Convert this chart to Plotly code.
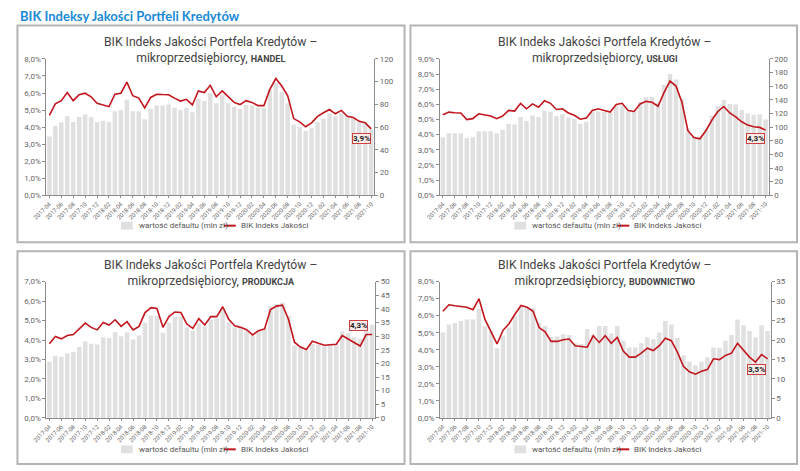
import plotly.graph_objects as go

W, H = 800, 471

# ---------------- data ----------------
months = []
for yr in range(2017, 2022):
    for mo in range(1, 13):
        if (yr == 2017 and mo < 4) or (yr == 2021 and mo > 10):
            continue
        months.append(f"{yr}-{mo:02d}")

handel_pct = [4.69, 5.36, 5.55, 6.03, 5.55, 5.90, 5.99, 5.78, 5.40,
              5.32, 5.20, 5.93, 5.99, 6.64, 5.84, 5.70, 5.13, 5.74, 5.93, 5.91, 5.90,
              5.70, 5.53, 5.63, 5.30, 6.12, 6.03, 6.45, 5.78, 6.12, 5.78, 5.45, 5.32,
              5.55, 5.45, 5.26, 5.26, 6.22, 6.85, 6.41, 5.84, 4.50, 4.31, 4.02, 4.25,
              4.63, 4.84, 5.03, 4.78, 4.98, 4.63, 4.56, 4.34, 4.25, 3.90]
handel_val = [51.7, 61, 64, 69.5, 64.6, 69, 71, 69, 64.6,
              65.5, 64.6, 74, 75, 84, 74, 74, 67, 76, 79, 79, 80,
              77, 75, 77, 73, 85, 83, 90, 81, 88, 81, 78, 76,
              79.5, 79, 77, 77, 93, 99, 91, 81, 62, 60, 56.5, 59,
              64.6, 67.5, 72, 69.5, 72, 69.5, 68, 64.6, 63, 58]

uslugi_pct = [5.32, 5.49, 5.45, 5.43, 5.00, 5.06, 5.38, 5.32, 5.23,
              5.06, 5.23, 5.60, 5.56, 6.07, 5.71, 6.03, 5.81, 6.24, 6.07, 5.66, 5.71,
              5.43, 5.28, 5.02, 5.10, 5.60, 5.71, 5.60, 5.49, 5.99, 6.07, 5.60, 5.53,
              6.03, 6.20, 6.14, 5.88, 6.78, 7.54, 7.21, 6.14, 4.26, 3.81, 3.73, 4.26,
              4.95, 5.53, 5.86, 5.43, 5.17, 4.85, 4.63, 4.52, 4.48, 4.30]
uslugi_val = [85, 91, 91, 91, 84, 85, 94, 94, 94,
              91, 96, 105, 104, 115, 109, 117, 115, 124, 123, 116, 119,
              114, 112, 105, 108, 122, 123, 122, 121, 132, 132, 123, 122,
              137, 144, 144, 136, 162, 178, 170, 142, 98, 86, 85, 97,
              117, 131, 140, 134, 133, 125, 120, 118, 119, 111]

produkcja_pct = [3.81, 4.18, 4.06, 4.23, 4.28, 4.57, 4.87, 4.65, 4.52,
                 4.90, 4.77, 5.04, 4.70, 4.94, 4.52, 4.70, 5.41, 5.66, 5.62, 4.65, 5.20,
                 5.44, 5.41, 4.82, 4.60, 5.10, 4.77, 5.20, 5.20, 5.71, 5.07, 4.73, 4.65,
                 4.53, 4.26, 4.48, 4.57, 5.57, 5.74, 5.79, 5.07, 3.89, 3.64, 3.51, 3.94,
                 3.84, 3.73, 3.76, 3.78, 4.23, 4.06, 3.86, 3.69, 4.28, 4.28]
produkcja_val = [20.6, 22.7, 22.4, 23.6, 24.2, 26, 28, 27.2, 26.9,
                 29.6, 29.3, 31.4, 30, 31.4, 28.8, 30.2, 35, 37.6, 37.4, 31.2, 35,
                 37, 37, 33.2, 32, 34.7, 33.5, 35.9, 36.5, 39.8, 35, 33.2, 32.9,
                 32, 30.2, 32.3, 32.9, 41, 41.8, 42.2, 37.4, 26.6, 25.8, 24.8, 27.2,
                 26.9, 26.3, 26.9, 27, 31.7, 31.1, 29.6, 29, 33.6, 34.2]

budownictwo_pct = [6.26, 6.64, 6.58, 6.55, 6.49, 6.35, 6.99, 5.78, 5.10,
                   4.34, 5.14, 5.53, 6.10, 6.60, 6.49, 6.26, 5.30, 5.05, 4.49, 4.49, 4.59,
                   4.63, 4.24, 4.18, 4.15, 4.82, 4.43, 4.82, 4.38, 4.72, 3.92, 3.57, 3.57,
                   3.80, 4.09, 3.95, 4.24, 4.68, 4.53, 3.86, 3.03, 2.71, 2.57, 2.74, 2.84,
                   3.47, 3.42, 3.67, 3.80, 4.38, 3.99, 3.57, 3.28, 3.72, 3.47]
budownictwo_val = [21.9, 24.0, 24.4, 24.9, 25.3, 25.3, 28.0, 23.6, 22.3,
                   17.9, 21.1, 23.2, 26.1, 28.6, 28.2, 28.2, 24.4, 23.6, 20.8, 20.9, 21.5,
                   21.3, 19.2, 19.0, 22.8, 21.5, 23.6, 23.6, 21.7, 23.6, 19.8, 18.1, 18.1,
                   19.2, 20.7, 20.2, 21.9, 24.9, 24.0, 20.5, 16.0, 14.4, 13.5, 14.4, 15.6,
                   18.1, 18.0, 19.8, 21.3, 25.3, 23.8, 22.3, 20.7, 23.8, 22.3]

sectors = ["HANDEL", "USŁUGI", "PRODUKCJA", "BUDOWNICTWO"]
pct_series = [handel_pct, uslugi_pct, produkcja_pct, budownictwo_pct]
val_series = [handel_val, uslugi_val, produkcja_val, budownictwo_val]
left_max = [8, 9, 7, 8]
right_max = [120, 200, 50, 35]
right_step = [20, 20, 5, 5]

main_title = "BIK Indeksy Jakości Portfeli Kredytów"
sub_title = "BIK Indeks Jakości Portfela Kredytów –"
sub_line2 = "mikroprzedsiębiorcy, "
legend_bar = "wartość defaultu (mln zł)"
legend_line = "BIK Indeks Jakości"

# ---------------- layout geometry (pixels) ----------------
plot_rects = [(32, 56, 366, 195), (433, 56, 768, 195),
              (32, 283, 367, 422), (433, 283, 770, 422)]
panel_boxes = [(2.5, 22, 397, 243), (403, 22, 797, 243),
               (2.5, 252, 397, 469), (403, 252, 797, 469)]
title_pos = [(200, 47), (601, 47), (200, 274), (601, 274)]
legend_pos = [(108, 226), (509, 226), (108, 454), (509, 454)]
label_shift = [(-10, -10), (-10, -8), (-14, 9), (-11, -11)]

RED = "#c2151d"
BARC = "#e0e0e0"
AX = "#8c8c8c"
TXT = "#666666"
FONT = "Roboto"
NARROW = "Liberation Sans Narrow, Roboto, sans-serif"

def px(x):
    return x / W

def py(y):
    return 1 - y / H

idx = list(range(len(months)))
fig = go.Figure()
layout = dict(width=W, height=H, margin=dict(l=0, r=0, t=0, b=0),
              paper_bgcolor="white", plot_bgcolor="white", showlegend=False,
              bargap=0.25)
shapes = []
annotations = []

for k in range(4):
    n = k + 1
    xname = "x" if n == 1 else f"x{n}"
    ybar = "y" if n == 1 else f"y{2 * n - 1}"
    yline = f"y{2 * n}"
    x0, y0, x1, y1 = plot_rects[k]
    xd = [px(x0), px(x1)]
    yd = [py(y1), py(y0)]

    fig.add_trace(go.Bar(x=idx, y=val_series[k], marker_color=BARC,
                         marker_line_width=0, xaxis=xname, yaxis=ybar,
                         name=legend_bar))
    fig.add_trace(go.Scatter(x=idx, y=pct_series[k], mode="lines",
                             line=dict(color=RED, width=1.6),
                             xaxis=xname, yaxis=yline, name=legend_line))

    xkey = "xaxis" if n == 1 else f"xaxis{n}"
    ybkey = "yaxis" if n == 1 else f"yaxis{2 * n - 1}"
    ylkey = f"yaxis{2 * n}"

    layout[xkey] = dict(domain=xd, anchor=ybar, range=[-0.5, len(idx) - 0.5],
                        tickmode="array", tickvals=idx[::2], ticktext=months[::2],
                        tickangle=-45, tickfont=dict(size=6, color=TXT, family=NARROW),
                        showline=True, linecolor=AX, linewidth=1, ticks="outside",
                        ticklen=2, tickcolor=AX, showgrid=False, zeroline=False,
                        fixedrange=True)
    rt = list(range(0, right_max[k] + 1, right_step[k]))
    layout[ybkey] = dict(domain=yd, anchor=xname, side="right",
                         range=[0, right_max[k]], tickmode="array", tickvals=rt,
                         ticktext=[str(v) for v in rt],
                         tickfont=dict(size=8, color=TXT, family=FONT),
                         showline=True, linecolor=AX, linewidth=1, ticks="outside",
                         ticklen=3, tickcolor=AX, showgrid=False, zeroline=False)
    lt = list(range(0, left_max[k] + 1))
    layout[ylkey] = dict(overlaying=ybar, anchor=xname, side="left",
                         range=[0, left_max[k]], tickmode="array", tickvals=lt,
                         ticktext=[f"{v:.1f}%".replace(".", ",") for v in lt],
                         tickfont=dict(size=8, color=TXT, family=FONT),
                         showline=True, linecolor=AX, linewidth=1, ticks="outside",
                         ticklen=3, tickcolor=AX, showgrid=False, zeroline=False)

    # panel frame
    bx0, by0, bx1, by1 = panel_boxes[k]
    shapes.append(dict(type="rect", xref="paper", yref="paper",
                       x0=px(bx0), x1=px(bx1), y0=py(by1), y1=py(by0),
                       line=dict(color="#b4b4b4", width=2), layer="below"))

    # title
    tx, ty = title_pos[k]
    annotations.append(dict(
        xref="paper", yref="paper", x=px(tx), y=py(ty), xanchor="center",
        yanchor="middle", showarrow=False, align="center",
        text=(f"{sub_title}<br>{sub_line2}"
              f"<b><span style='font-size:9px'>{sectors[k]}</span></b>"),
        font=dict(size=12.2, color="#444444", family=FONT)))

    # legend (manual)
    lx, ly = legend_pos[k]
    shapes.append(dict(type="rect", xref="paper", yref="paper",
                       x0=px(lx), x1=px(lx + 12), y0=py(ly + 4), y1=py(ly - 4),
                       fillcolor=BARC, line=dict(width=0)))
    annotations.append(dict(xref="paper", yref="paper", x=px(lx + 16), y=py(ly),
                            xanchor="left", yanchor="middle", showarrow=False,
                            text=legend_bar,
                            font=dict(size=8, color="#555555", family=FONT)))
    shapes.append(dict(type="line", xref="paper", yref="paper",
                       x0=px(lx + 105), x1=px(lx + 117), y0=py(ly), y1=py(ly),
                       line=dict(color=RED, width=2)))
    annotations.append(dict(xref="paper", yref="paper", x=px(lx + 120), y=py(ly),
                            xanchor="left", yanchor="middle", showarrow=False,
                            text=legend_line,
                            font=dict(size=8, color="#555555", family=FONT)))

    # last value label
    last = pct_series[k][-1]
    sx, sy = label_shift[k]
    annotations.append(dict(xref=xname, yref=yline, x=idx[-1], y=last,
                            xshift=sx, yshift=sy, showarrow=False,
                            text=f"<b>{last:.1f}%</b>".replace(".", ","),
                            font=dict(size=8, color="#222222", family=FONT),
                            bgcolor="#fbecec", bordercolor="#d04040",
                            borderwidth=1, borderpad=0))

annotations.append(dict(xref="paper", yref="paper", x=px(3), y=py(12),
                        xanchor="left", yanchor="middle", showarrow=False,
                        text=f"<b>{main_title}</b>",
                        font=dict(size=13, color="#1a8ad8", family="Lato")))

layout["shapes"] = shapes
layout["annotations"] = annotations
fig.update_layout(**layout)
fig.write_html("out.html", config={"displayModeBar": False},
               post_script="document.body.style.margin='0';")
